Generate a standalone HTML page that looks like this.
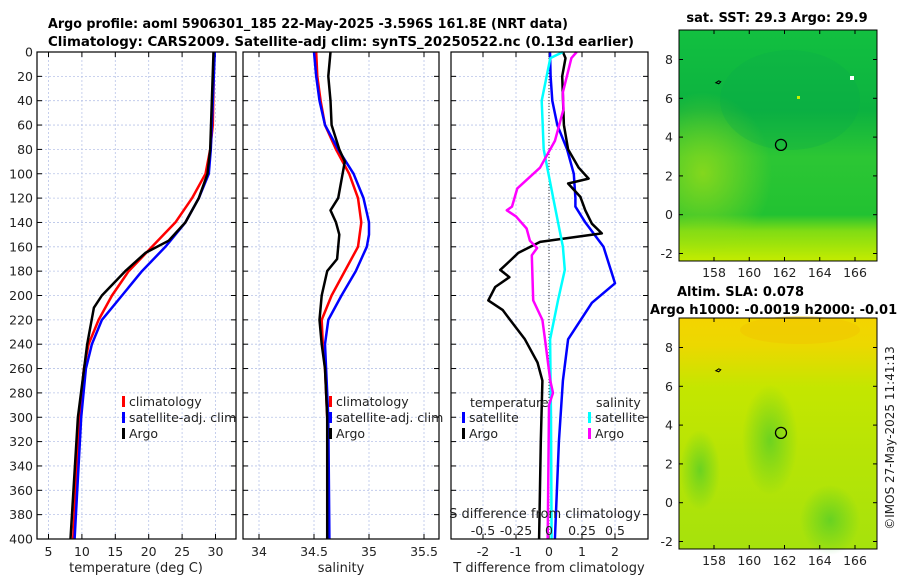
<!DOCTYPE html>
<html><head><meta charset="utf-8"><style>
body{margin:0;background:#fff;width:900px;height:580px;overflow:hidden}
svg{font-family:"DejaVu Sans","Liberation Sans",sans-serif}
</style></head><body>
<svg id="s" width="900" height="580" xmlns="http://www.w3.org/2000/svg">
<defs>
<linearGradient id="sstg" x1="0" y1="0" x2="0" y2="1">
<stop offset="0" stop-color="#12c040"/><stop offset="0.35" stop-color="#0cb240"/><stop offset="0.55" stop-color="#2cc634"/><stop offset="0.8" stop-color="#22c232"/><stop offset="0.87" stop-color="#80dc14"/><stop offset="1" stop-color="#c4ec00"/>
</linearGradient>
<radialGradient id="sstl" cx="0.12" cy="0.62" r="0.35"><stop offset="0" stop-color="#9adc18" stop-opacity="0.8"/><stop offset="1" stop-color="#9adc18" stop-opacity="0"/></radialGradient>
<linearGradient id="slag" x1="0" y1="0" x2="0" y2="1">
<stop offset="0" stop-color="#f4d400"/><stop offset="0.12" stop-color="#ecd800"/><stop offset="0.3" stop-color="#c4e600"/><stop offset="1" stop-color="#a6e20c"/>
</linearGradient>
<radialGradient id="slagr" cx="0.5" cy="0.5" r="0.5"><stop offset="0" stop-color="#40c830" stop-opacity="0.9"/><stop offset="1" stop-color="#40c830" stop-opacity="0"/></radialGradient>
</defs>
</svg>
<script>
// ---- data ----
const depthTicks=[0,20,40,60,80,100,120,140,160,180,200,220,240,260,280,300,320,340,360,380,400];
const tempTicks=[5,10,15,20,25,30];
const salTicks=[34,34.5,35,35.5];
const tdTicks=[-2,-1,0,1,2];
const sdTicks=[-0.5,-0.25,0,0.25,0.5];
const climTD=[0,60,80,100,120,140,160,180,200,220,240,260,300,400];
const climT=[29.8,29.6,29.2,28.5,26.5,24,20.5,17,14.5,12.5,11,10.3,9.6,8.7];
const satTD=[0,80,100,120,140,160,180,200,220,240,260,300,400];
const satT=[29.9,29.3,29,27.5,25.5,22.5,19,16,13,11.5,10.6,9.9,8.9];
const argoTD=[0,80,100,120,140,155,165,180,200,210,240,300,400];
const argoT=[29.7,29.2,28.8,27.5,25.5,23,19.5,16.5,13,11.8,10.8,9.4,8.3];
const argoSD=[0,20,40,60,80,90,100,110,120,130,140,150,160,170,180,200,220,240,260,300,400];
const argoS=[34.65,34.63,34.65,34.66,34.73,34.78,34.76,34.74,34.72,34.65,34.7,34.73,34.72,34.71,34.62,34.57,34.55,34.57,34.6,34.62,34.62];
const climSD=[0,20,40,60,80,100,120,140,160,180,200,220,240,260,300,400];
const climS=[34.52,34.53,34.56,34.6,34.7,34.82,34.9,34.93,34.9,34.78,34.66,34.57,34.58,34.6,34.62,34.63];
const satSD=[0,20,40,60,80,100,120,140,150,160,180,200,220,240,260,300,400];
const satS=[34.5,34.52,34.55,34.6,34.72,34.86,34.95,35.0,35.0,34.98,34.88,34.75,34.63,34.6,34.61,34.63,34.64];
const dTsatD=[0,20,40,60,80,100,120,127,140,160,190,206,236,270,320,400];
const dTsat=[0.03,0.05,0.1,0.25,0.55,0.75,0.8,0.8,1.1,1.65,2.0,1.3,0.58,0.42,0.3,0.18];
const dTargoD=[0,5,20,60,80,95,104,108,119,130,141,149,156,165,172,179,185,193,204,212,220,236,255,270,320,400];
const dTargo=[0.42,0.5,0.4,0.45,0.58,0.9,1.2,0.58,0.95,1.1,1.3,1.6,-0.27,-0.93,-1.2,-1.48,-1.2,-1.63,-1.84,-1.4,-1.18,-0.73,-0.35,-0.2,-0.25,-0.3];
const dSsatD=[0,5,40,80,127,160,179,204,236,300,400];
const dSsat=[0.105,0.01,-0.055,-0.04,0.045,0.105,0.12,0.068,0.008,0.015,0.02];
const dSargoD=[0,5,33,47,73,95,112,127,130,135,145,155,161,167,204,220,236,270,280,290,400];
const dSargo=[0.21,0.17,0.105,0.11,0.045,-0.068,-0.24,-0.28,-0.32,-0.25,-0.17,-0.145,-0.09,-0.13,-0.12,-0.05,-0.03,0.01,0.03,0.0,-0.01];

const S=document.getElementById('s');
const NS='http://www.w3.org/2000/svg';
function mk(tag,at,txt){const e=document.createElementNS(NS,tag);for(const k in at)e.setAttribute(k,at[k]);if(txt!==undefined)e.textContent=txt;S.appendChild(e);return e;}
const Y0=52,Y1=539;
const yD=d=>Y0+(d/400)*(Y1-Y0);
function lin(d0,d1,p0,p1){return v=>p0+(v-d0)/(d1-d0)*(p1-p0);}
const x1=lin(5,30,48.5,215.5), x2=lin(34,35.5,259,424), x3=lin(-2,2,483,615), x3s=v=>x3(v*4);

function panel(L,R,xs,ticks,name,fmt,showY){
  for(const t of depthTicks){const y=yD(t);
    let g=mk('line',{x1:L,x2:R,y1:y,y2:y,stroke:'#b8c4e8','stroke-width':0.8,'stroke-dasharray':'2,2'});
    
    mk('line',{x1:L,x2:L+5,y1:y,y2:y,stroke:'#000'});mk('line',{x1:R-5,x2:R,y1:y,y2:y,stroke:'#000'});
    if(showY){const l=mk('text',{x:L-4,y:y+4.5,'text-anchor':'end','font-size':12.5,fill:'#222'},t);
      }
  }
  for(const t of ticks){const x=xs(t);
    if(x<L||x>R)continue;
    mk('line',{x1:x,x2:x,y1:Y0,y2:Y1,stroke:'#b8c4e8','stroke-width':0.8,'stroke-dasharray':'2,2'});
    mk('line',{x1:x,x2:x,y1:Y1-5,y2:Y1,stroke:'#000'});mk('line',{x1:x,x2:x,y1:Y0,y2:Y0+5,stroke:'#000'});
    if(fmt){const l=mk('text',{x:x,y:556,'text-anchor':'middle','font-size':12.5,fill:'#222'},fmt(t));
      }
  }
}
function line(xs,vals,deps,col,w,name){
  const p=vals.map((v,i)=>xs(v).toFixed(1)+','+yD(deps[i]).toFixed(1)).join(' ');
  const e=mk('polyline',{points:p,fill:'none',stroke:col,'stroke-width':w,'stroke-linejoin':'round'});
  
}
function frame(L,R,name){const e=mk('rect',{x:L,y:Y0,width:R-L,height:Y1-Y0,fill:'none',stroke:'#000','stroke-width':1.2});
  }
function txt(x,y,s,o,name){const e=mk('text',Object.assign({x:x,y:y,'font-size':12.5,fill:'#222'},o||{}),s);
  return e;}
function leg(x,y,col,s,name){mk('rect',{x:x,y:y-10,width:3,height:11,fill:col});return txt(x+7,y,s,{},name);}

// panel 1
panel(37,236,x1,tempTicks,'temperature',t=>t,true);
line(x1,climT,climTD,'#f00',2.5,'climatology-temp-line');
line(x1,satT,satTD,'#00f',2.5,'satellite-temp-line');
line(x1,argoT,argoTD,'#000',2.5,'argo-temp-line');
frame(37,236,'temperature-plot-frame');
txt(136,572,'temperature (deg C)',{'text-anchor':'middle','font-size':13},'temperature-axis-title');
leg(122,406,'#f00','climatology','legend-climatology');
leg(122,422,'#00f','satellite-adj. clim','legend-satellite-adj');
leg(122,438,'#000','Argo','legend-argo');
// panel 2
mk('rect',{x:241,y:Y0-2,width:3,height:Y1-Y0+4,fill:'#fff'});
panel(243,439,x2,salTicks,'salinity',t=>t,false);
line(x2,climS,climSD,'#f00',2.5,'climatology-salinity-line');
line(x2,satS,satSD,'#00f',2.5,'satellite-salinity-line');
line(x2,argoS,argoSD,'#000',2.5,'argo-salinity-line');
frame(243,439,'salinity-plot-frame');
txt(341,572,'salinity',{'text-anchor':'middle','font-size':13},'salinity-axis-title');
leg(329,406,'#f00','climatology','legend-climatology-2');
leg(329,422,'#00f','satellite-adj. clim','legend-satellite-adj-2');
leg(329,438,'#000','Argo','legend-argo-2');
// panel 3
mk('rect',{x:446,y:Y0-2,width:4,height:Y1-Y0+4,fill:'#fff'});
panel(451,648,x3,tdTicks,'difference',t=>t,false);
mk('line',{x1:x3(0),x2:x3(0),y1:Y0,y2:Y1,stroke:'#333','stroke-width':1,'stroke-dasharray':'1,2'});
line(x3,dTsat,dTsatD,'#00f',2.5,'satellite-temp-diff-line');
line(x3,dTargo,dTargoD,'#000',2.5,'argo-temp-diff-line');
line(x3s,dSsat,dSsatD,'#0ff',2.5,'satellite-salinity-diff-line');
line(x3s,dSargo,dSargoD,'#f0f',2.5,'argo-salinity-diff-line');
frame(451,648,'difference-plot-frame');
txt(549,572,'T difference from climatology',{'text-anchor':'middle','font-size':13},'t-diff-axis-title');
txt(545,518,'S difference from climatology',{'text-anchor':'middle','font-size':13},'s-diff-axis-title');
for(const t of sdTicks){txt(x3s(t),535,String(t),{'text-anchor':'middle'},'s-diff-tick-label');}
txt(470,407,'temperature',{},'legend-temperature-header');
leg(462,422,'#00f','satellite','legend-temp-satellite');
leg(462,438,'#000','Argo','legend-temp-argo');
txt(596,407,'salinity',{},'legend-salinity-header');
leg(588,422,'#0ff','satellite','legend-sal-satellite');
leg(588,438,'#f0f','Argo','legend-sal-argo');
// titles
txt(48,28,'Argo profile: aoml 5906301_185 22-May-2025 -3.596S 161.8E (NRT data)',{'font-weight':'bold','font-size':13,fill:'#000',textLength:520,lengthAdjust:'spacingAndGlyphs'},'figure-title-line1');
txt(48,46,'Climatology: CARS2009. Satellite-adj clim: synTS_20250522.nc (0.13d earlier)',{'font-weight':'bold','font-size':13,fill:'#000',textLength:586,lengthAdjust:'spacingAndGlyphs'},'figure-title-line2');

// maps
function map(T,B,fill,name,extra){
  const L=679,R=877;
  const r=mk('rect',{x:L,y:T,width:R-L,height:B-T,fill:fill});
  extra(L,R);
  const lon=lin(158,166,714,855), lat=lin(8,-2,T+29.5,T+223.5);
  for(const v of [158,160,162,164,166]){const x=lon(v);mk('line',{x1:x,x2:x,y1:B-4,y2:B,stroke:'#000'});mk('line',{x1:x,x2:x,y1:T,y2:T+4,stroke:'#000'});
    txt(x,B+16,v,{'text-anchor':'middle'},name+'-lon-tick');}
  for(const v of [8,6,4,2,0,-2]){const y=lat(v);mk('line',{x1:L,x2:L+4,y1:y,y2:y,stroke:'#000'});mk('line',{x1:R-4,x2:R,y1:y,y2:y,stroke:'#000'});
    txt(L-6,y+4.5,v,{'text-anchor':'end'},name+'-lat-tick');}
  const c=mk('circle',{cx:lon(161.8),cy:lat(3.6),r:5.5,fill:'none',stroke:'#000','stroke-width':1.3});
  
  mk('path',{d:`M${lon(158.1)} ${lat(6.8)} l3 -2 l2 1 l-2 2z`,fill:'none',stroke:'#000'});
  mk('rect',{x:L,y:T,width:R-L,height:B-T,fill:'none',stroke:'#000','stroke-width':1});
}
map(30,261,'url(#sstg)','sst-map',(L,R)=>{
  mk('rect',{x:L,y:30,width:R-L,height:231,fill:'url(#sstl)'});
  mk('ellipse',{cx:790,cy:100,rx:70,ry:50,fill:'#08a84a',opacity:0.25});
  mk('rect',{x:850,y:76,width:4,height:4,fill:'#fff'});
  mk('rect',{x:797,y:96,width:3,height:3,fill:'#c8f000'});
});
map(318,549,'url(#slag)','sla-map',(L,R)=>{
  mk('ellipse',{cx:770,cy:440,rx:28,ry:55,fill:'url(#slagr)',opacity:0.7});
  mk('ellipse',{cx:830,cy:520,rx:30,ry:35,fill:'url(#slagr)',opacity:0.7});
  mk('ellipse',{cx:700,cy:470,rx:20,ry:40,fill:'url(#slagr)',opacity:0.7});
  mk('ellipse',{cx:800,cy:330,rx:60,ry:14,fill:'#f0c000',opacity:0.4});
});
txt(777,22,'sat. SST: 29.3 Argo: 29.9',{'text-anchor':'middle','font-weight':'bold','font-size':13,fill:'#000'},'sst-map-title');
txt(677,296,'Altim. SLA: 0.078',{'font-weight':'bold','font-size':13,fill:'#000'},'sla-map-title');
txt(650,314,'Argo h1000: -0.0019 h2000: -0.01',{'font-weight':'bold','font-size':13,fill:'#000'},'sla-map-subtitle');
txt(0,0,'©IMOS 27-May-2025 11:41:13',{'text-anchor':'middle','transform':'translate(894,438) rotate(-90)','font-size':12},'copyright-timestamp');
</script>
</body></html>
